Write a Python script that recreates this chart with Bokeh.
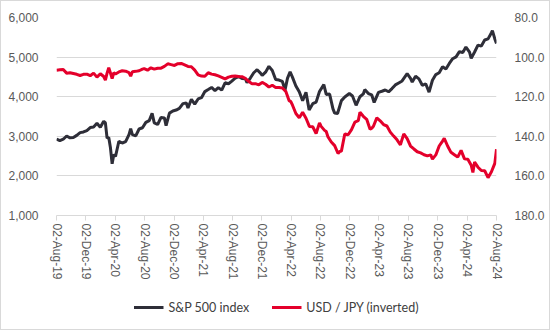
import math
import pandas as pd
from bokeh.plotting import figure
from bokeh.layouts import column
from bokeh.models import (Range1d, LinearAxis, FixedTicker, NumeralTickFormatter,
                          Legend, LegendItem, ColumnDataSource)
from bokeh.embed import file_html
from bokeh.resources import INLINE

# ---------------- data ----------------
sp_dates = [
    "2019-08-02", "2019-08-16", "2019-08-30", "2019-09-13", "2019-09-27", "2019-10-11", "2019-10-25",
    "2019-11-08", "2019-11-22", "2019-12-06", "2019-12-20",
    "2020-01-03", "2020-01-17", "2020-01-31", "2020-02-14", "2020-02-21", "2020-02-28", "2020-03-06",
    "2020-03-13", "2020-03-20", "2020-03-27", "2020-04-03", "2020-04-17", "2020-05-01", "2020-05-15",
    "2020-05-29", "2020-06-05", "2020-06-12", "2020-06-26", "2020-07-10", "2020-07-24", "2020-08-07",
    "2020-08-21", "2020-09-02", "2020-09-11", "2020-09-25", "2020-10-09", "2020-10-23", "2020-10-30",
    "2020-11-13", "2020-11-27", "2020-12-11", "2020-12-24",
    "2021-01-08", "2021-01-22", "2021-01-29", "2021-02-12", "2021-02-26", "2021-03-12", "2021-03-26",
    "2021-04-09", "2021-04-23", "2021-05-07", "2021-05-21", "2021-06-04", "2021-06-18", "2021-07-02",
    "2021-07-16", "2021-07-30", "2021-08-13", "2021-08-27", "2021-09-10", "2021-09-24", "2021-10-01",
    "2021-10-15", "2021-10-29", "2021-11-12", "2021-11-26", "2021-12-03", "2021-12-17", "2021-12-31",
    "2022-01-14", "2022-01-28", "2022-02-11", "2022-02-25", "2022-03-08", "2022-03-18", "2022-03-29",
    "2022-04-08", "2022-04-22", "2022-05-06", "2022-05-20", "2022-06-03", "2022-06-16", "2022-07-01",
    "2022-07-15", "2022-07-29", "2022-08-16", "2022-08-26", "2022-09-09", "2022-09-23", "2022-09-30",
    "2022-10-12", "2022-10-28", "2022-11-11", "2022-11-30", "2022-12-13", "2022-12-28",
    "2023-01-13", "2023-01-27", "2023-02-02", "2023-02-17", "2023-03-03", "2023-03-13", "2023-03-31",
    "2023-04-14", "2023-04-28", "2023-05-12", "2023-05-26", "2023-06-09", "2023-06-23", "2023-07-07",
    "2023-07-28", "2023-08-11", "2023-08-18", "2023-09-01", "2023-09-15", "2023-09-29", "2023-10-13",
    "2023-10-27", "2023-11-10", "2023-11-24", "2023-12-08", "2023-12-22",
    "2024-01-05", "2024-01-19", "2024-02-02", "2024-02-16", "2024-03-01", "2024-03-15", "2024-03-28",
    "2024-04-12", "2024-04-19", "2024-05-03", "2024-05-17", "2024-05-31", "2024-06-14", "2024-06-28",
    "2024-07-12", "2024-07-16", "2024-07-26", "2024-08-02",
]
sp_values = [
    2932, 2889, 2926, 3007, 2961, 2970, 3023, 3093, 3110, 3146, 3221,
    3235, 3330, 3226, 3380, 3338, 2954, 2972, 2711, 2305, 2541, 2489, 2875, 2831, 2864,
    3044, 3194, 3041, 3009, 3185, 3216, 3351, 3397, 3580, 3341, 3298, 3477, 3465, 3270,
    3585, 3638, 3663, 3703,
    3825, 3841, 3714, 3934, 3811, 3943, 3975, 4129, 4180, 4233, 4156, 4230, 4166, 4352,
    4327, 4395, 4468, 4509, 4459, 4455, 4357, 4471, 4605, 4682, 4595, 4538, 4620, 4766,
    4663, 4432, 4419, 4385, 4170, 4463, 4631, 4488, 4272, 4123, 3901, 4109, 3667, 3825,
    3863, 4130, 4305, 4058, 4067, 3693, 3586, 3577, 3901, 3993, 4080, 4019, 3783,
    3999, 4070, 4179, 4079, 4045, 3855, 4109, 4137, 4169, 4124, 4205, 4298, 4348, 4398,
    4582, 4464, 4369, 4515, 4450, 4288, 4327, 4117, 4415, 4559, 4604, 4754,
    4697, 4840, 4959, 5005, 5137, 5117, 5254, 5123, 4967, 5128, 5303, 5278, 5432, 5460,
    5615, 5667, 5459, 5346,
]

jpy_dates = [
    "2019-08-02", "2019-08-16", "2019-08-30", "2019-09-13", "2019-09-27", "2019-10-11", "2019-10-25",
    "2019-11-08", "2019-11-22", "2019-12-06", "2019-12-20",
    "2020-01-03", "2020-01-17", "2020-01-31", "2020-02-14", "2020-02-21", "2020-02-28", "2020-03-06",
    "2020-03-13", "2020-03-20", "2020-03-27", "2020-04-03", "2020-04-17", "2020-05-01", "2020-05-15",
    "2020-05-29", "2020-06-05", "2020-06-12", "2020-06-26", "2020-07-10", "2020-07-24", "2020-07-31",
    "2020-08-14", "2020-08-28", "2020-09-11", "2020-09-25", "2020-10-09", "2020-10-23", "2020-11-06",
    "2020-11-20", "2020-12-04", "2020-12-18",
    "2021-01-01", "2021-01-15", "2021-01-29", "2021-02-12", "2021-02-26", "2021-03-12", "2021-03-26",
    "2021-04-09", "2021-04-23", "2021-05-07", "2021-05-21", "2021-06-04", "2021-06-18", "2021-07-02",
    "2021-07-16", "2021-07-30", "2021-08-13", "2021-08-27", "2021-09-10", "2021-09-24", "2021-10-08",
    "2021-10-22", "2021-11-05", "2021-11-19", "2021-12-03", "2021-12-17", "2021-12-31",
    "2022-01-14", "2022-01-28", "2022-02-11", "2022-02-25", "2022-03-11", "2022-03-25", "2022-04-01",
    "2022-04-08", "2022-04-22", "2022-05-06", "2022-05-20", "2022-06-03", "2022-06-17", "2022-07-01",
    "2022-07-15", "2022-07-29", "2022-08-05", "2022-08-19", "2022-08-26", "2022-09-02", "2022-09-16",
    "2022-09-30", "2022-10-14", "2022-10-21", "2022-10-28", "2022-11-11", "2022-11-25", "2022-12-09",
    "2022-12-23",
    "2023-01-06", "2023-01-13", "2023-01-27", "2023-02-10", "2023-02-24", "2023-03-03", "2023-03-10",
    "2023-03-24", "2023-04-07", "2023-04-21", "2023-05-05", "2023-05-19", "2023-06-02", "2023-06-16",
    "2023-06-30", "2023-07-14", "2023-07-28", "2023-08-11", "2023-08-25", "2023-09-08", "2023-09-22",
    "2023-10-06", "2023-10-20", "2023-11-03", "2023-11-10", "2023-11-24", "2023-12-08", "2023-12-22",
    "2023-12-29",
    "2024-01-12", "2024-01-26", "2024-02-09", "2024-02-23", "2024-03-08", "2024-03-22", "2024-04-05",
    "2024-04-19", "2024-04-26", "2024-05-03", "2024-05-17", "2024-05-31", "2024-06-14", "2024-06-28",
    "2024-07-12", "2024-07-26", "2024-08-02",
]
jpy_values = [
    106.6, 106.4, 106.3, 108.1, 107.9, 108.3, 108.7, 109.3, 108.7, 108.6, 109.4,
    108.1, 110.1, 108.4, 109.8, 111.6, 108.1, 105.4, 108.0, 110.8, 107.9, 108.5, 107.5, 106.9, 107.1,
    107.8, 109.6, 107.4, 107.2, 106.9, 106.1, 105.8, 106.6, 105.4, 106.1, 105.6, 105.6, 104.7, 103.4,
    103.8, 104.2, 103.3,
    103.2, 103.9, 104.7, 104.9, 106.6, 109.0, 109.6, 109.7, 107.9, 108.6, 108.9, 109.5, 110.2, 111.0,
    110.1, 109.7, 109.6, 109.8, 109.9, 110.7, 112.2, 113.5, 113.4, 114.0, 112.8, 113.7, 115.1,
    114.2, 115.3, 115.4, 115.6, 117.3, 122.0, 122.5, 124.3, 128.5, 130.6, 127.9, 130.9, 135.0, 135.2,
    138.6, 133.2, 135.0, 137.0, 137.6, 140.2, 142.9, 144.7, 148.7, 147.7, 147.5, 138.8, 139.2, 136.6,
    132.8,
    132.1, 127.9, 129.9, 131.4, 136.4, 135.9, 134.9, 130.7, 132.2, 134.1, 134.8, 137.9, 139.9, 141.8,
    144.3, 138.8, 141.2, 144.9, 146.4, 147.8, 148.4, 149.3, 149.9, 149.4, 151.5, 149.4, 144.9, 142.4,
    141.0,
    144.9, 148.1, 149.3, 150.5, 147.1, 151.4, 151.6, 154.6, 158.3, 153.0, 155.6, 157.3, 157.4, 160.9,
    157.9, 153.7, 146.5,
]

xtick_labels = ["02-Aug-19", "02-Dec-19", "02-Apr-20", "02-Aug-20", "02-Dec-20", "02-Apr-21",
                "02-Aug-21", "02-Dec-21", "02-Apr-22", "02-Aug-22", "02-Dec-22", "02-Apr-23",
                "02-Aug-23", "02-Dec-23", "02-Apr-24", "02-Aug-24"]
left_ticks = [1000, 2000, 3000, 4000, 5000, 6000]
right_ticks = [80, 100, 120, 140, 160, 180]

series_names = ["S&P 500 index", "USD / JPY (inverted)"]
series_colors = ["#2e2e38", "#e4002b"]

# ---------------- main figure ----------------
def to_ms(ts):
    return ts.value / 1e6

sp_src = ColumnDataSource(dict(x=pd.to_datetime(sp_dates), y=sp_values))
jpy_src = ColumnDataSource(dict(x=pd.to_datetime(jpy_dates), y=jpy_values))

tick_ts = [pd.to_datetime(s, format="%d-%b-%y") for s in xtick_labels]
tick_ms = [to_ms(t) for t in tick_ts]

p = figure(width=548, height=284, output_backend="svg", toolbar_location=None,
           x_axis_type="datetime",
           x_range=Range1d(tick_ms[0], tick_ms[-1]),
           y_range=Range1d(left_ticks[0], left_ticks[-1]),
           min_border_left=55, min_border_right=53, min_border_top=16, min_border_bottom=70)
p.outline_line_color = None
p.background_fill_color = "white"
p.border_fill_color = "white"

p.extra_y_ranges = {"jpy": Range1d(start=right_ticks[-1], end=right_ticks[0])}
raxis = LinearAxis(y_range_name="jpy")
p.add_layout(raxis, "right")

label_font = "Liberation Sans"
label_color = "#595959"

for ax, ticks, fmt in [(p.yaxis[0], left_ticks, "0,0"), (raxis, right_ticks, "0.0")]:
    ax.ticker = FixedTicker(ticks=ticks)
    ax.formatter = NumeralTickFormatter(format=fmt)
    ax.axis_line_color = None
    ax.major_tick_line_color = None
    ax.minor_tick_line_color = None
    ax.major_label_standoff = 12
    ax.major_label_text_font = label_font
    ax.major_label_text_font_size = "12px"
    ax.major_label_text_color = label_color

xa = p.xaxis[0]
xa.ticker = FixedTicker(ticks=tick_ms)
xa.major_label_overrides = {m: s for m, s in zip(tick_ms, xtick_labels)}
xa.major_label_orientation = -math.pi / 2
xa.axis_line_color = "#d9d9d9"
xa.major_tick_line_color = "#d9d9d9"
xa.major_tick_out = 5
xa.major_tick_in = 0
xa.minor_tick_line_color = None
xa.major_label_standoff = 3
xa.major_label_text_font = label_font
xa.major_label_text_font_size = "12px"
xa.major_label_text_color = label_color

p.xgrid.grid_line_color = None
p.ygrid.ticker = FixedTicker(ticks=left_ticks)
p.ygrid.grid_line_color = "#d9d9d9"
p.ygrid.grid_line_width = 1

p.line("x", "y", source=sp_src, line_color=series_colors[0], line_width=3)
p.line("x", "y", source=jpy_src, line_color=series_colors[1], line_width=3, y_range_name="jpy")

# ---------------- legend strip ----------------
# The same series are drawn here, far outside this strip's ranges, only to feed the legend.
lg = figure(width=548, height=44, output_backend="svg", toolbar_location=None,
            x_range=Range1d(0, 1), y_range=Range1d(0, 1), min_border=0)
lg.axis.visible = False
lg.grid.visible = False
lg.outline_line_color = None
lg.border_fill_color = "white"

items = []
for name, col, src in zip(series_names, series_colors, [sp_src, jpy_src]):
    r = lg.line("x", "y", source=src, line_color=col, line_width=3)
    items.append(LegendItem(label=name, renderers=[r]))

legend = Legend(items=items, orientation="horizontal", location="center")
legend.border_line_color = None
legend.background_fill_alpha = 0
legend.glyph_width = 30
legend.label_standoff = 5
legend.spacing = 22
legend.padding = 2
legend.margin = 0
legend.label_text_font = "Lato"
legend.label_text_font_size = "12.5px"
legend.label_text_color = "#404040"
lg.add_layout(legend, "center")

layout = column(p, lg, spacing=0)
layout.styles = {"border": "1px solid #d9d9d9"}

open("out.html", "w").write(file_html(layout, INLINE))
